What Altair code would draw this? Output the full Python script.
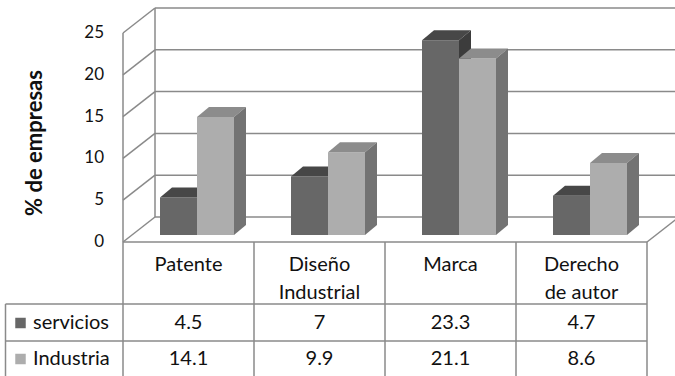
import altair as alt
import pandas as pd

# ---------------- data ----------------
categories = ["Patente", "Diseño Industrial", "Marca", "Derecho de autor"]
header_line1 = ["Patente", "Diseño", "Marca", "Derecho"]
header_line2 = ["", "Industrial", "", "de autor"]
series = ["servicios", "Industria"]
servicios = [4.5, 7, 23.3, 4.7]
industria = [14.1, 9.9, 21.1, 8.6]
y_ticks = [0, 5, 10, 15, 20, 25]
values_by_series = [servicios, industria]

# ---------------- layout constants ----------------
PX_U = 131.0     # px per category column
PX_V = 8.36      # px per percent
X0 = 123.0       # px of front-left axis
YB = 235.0       # px of bar base
W, H = 675, 376
FONT = "Lato"


def u(px):
    return (px - X0) / PX_U


def v(py):
    return (YB - py) / PX_V


X_DOM = [u(0), u(W)]
Y_DOM = [v(H), v(0)]
FRONT0 = v(242)            # front floor level
WDU, WDV = 32 / PX_U, 25 / PX_V   # wall depth
BDU, BDV = 12 / PX_U, 10 / PX_V   # bar depth
BAR_OFF, BAR_W = 37 / PX_U, 37 / PX_U

face_colors = {
    "servicios": ("#676767", "#474747", "#3c3c3c"),
    "Industria": ("#adadad", "#8c8c8c", "#737373"),
}
LINE = "#8a8a8a"
TXT = "#111111"


def X(f="x"):
    return alt.X(f"{f}:Q", scale=alt.Scale(domain=X_DOM, nice=False, zero=False), axis=None)


def Y(f="y"):
    return alt.Y(f"{f}:Q", scale=alt.Scale(domain=Y_DOM, nice=False, zero=False), axis=None, stack=None)


# ---------------- frame segments ----------------
BACK0 = FRONT0 + WDV
segs = []
for k in y_ticks:
    segs.append((WDU, BACK0 + k, 4 + WDU, BACK0 + k))   # back wall grid
    segs.append((0, FRONT0 + k, WDU, BACK0 + k))        # side wall diagonals
segs.append((WDU, BACK0, WDU, BACK0 + 25))
segs.append((0, FRONT0, 0, FRONT0 + 25))
segs.append((4, FRONT0, 4 + WDU, BACK0))
segs.append((0, FRONT0, 4, FRONT0))
for i in range(5):
    segs.append((i, FRONT0, i, v(H)))
segs.append((u(5.5), v(304), u(5.5), v(H)))
segs.append((u(5.5), v(304), 4, v(304)))
segs.append((u(5.5), v(341), 4, v(341)))
seg_df = pd.DataFrame(segs, columns=["x", "y", "x2", "y2"])

frame = alt.Chart(seg_df).mark_rule(color=LINE, strokeWidth=1.5).encode(
    x=X(), y=Y(), x2="x2:Q", y2="y2:Q"
)

layers = [frame]

# ---------------- bars ----------------
for si, s in enumerate(series):
    vals = values_by_series[si]
    fronts, tops, sides = [], [], []
    for ci, val in enumerate(vals):
        x0 = ci + BAR_OFF + si * BAR_W
        x1 = x0 + BAR_W
        fronts.append({"x": x0, "x2": x1, "y": 0, "y2": val})
        pts = [(x0, val, val), (x0 + BDU, val + BDV, val),
               (x1, val + BDV, val), (x1 + BDU, val + BDV, val + BDV)]
        for px, py, py2 in pts:
            tops.append({"id": f"t{ci}", "x": px, "y": py, "y2": py2})
        sides.append({"id": f"s{ci}", "x": x1, "y": val, "y2": 0})
        sides.append({"id": f"s{ci}", "x": x1 + BDU, "y": val + BDV, "y2": BDV})
    cf, ct, cs = face_colors[s]
    layers.append(alt.Chart(pd.DataFrame(fronts)).mark_rect(color=cf).encode(
        x=X(), x2="x2:Q", y=Y(), y2="y2:Q"))
    layers.append(alt.Chart(pd.DataFrame(tops)).mark_area(color=ct, opacity=1).encode(
        x=X(), y=Y(), y2="y2:Q", detail="id:N"))
    layers.append(alt.Chart(pd.DataFrame(sides)).mark_area(color=cs, opacity=1).encode(
        x=X(), y=Y(), y2="y2:Q", detail="id:N"))

# ---------------- axis labels ----------------
tick_df = pd.DataFrame({"x": [u(104)] * len(y_ticks),
                        "y": [FRONT0 + k for k in y_ticks],
                        "t": [str(k) for k in y_ticks]})
layers.append(alt.Chart(tick_df).mark_text(align="right", baseline="middle", font=FONT,
                                           fontSize=17, color=TXT).encode(
    x=X(), y=Y(), text="t:N"))

title_df = pd.DataFrame({"x": [u(35)], "y": [v(143)], "t": ["% de empresas"]})
layers.append(alt.Chart(title_df).mark_text(angle=270, align="center", baseline="middle",
                                            font=FONT, fontSize=22, fontWeight="bold",
                                            color=TXT).encode(x=X(), y=Y(), text="t:N"))

# ---------------- table ----------------
hdr = []
for ci in range(len(categories)):
    hdr.append({"x": ci + 0.5, "y": v(265), "t": header_line1[ci]})
    if header_line2[ci]:
        hdr.append({"x": ci + 0.5, "y": v(293), "t": header_line2[ci]})
row_y = [v(323), v(359)]
for si, s in enumerate(series):
    for ci, val in enumerate(values_by_series[si]):
        hdr.append({"x": ci + 0.5, "y": row_y[si], "t": f"{val:g}"})
layers.append(alt.Chart(pd.DataFrame(hdr)).mark_text(align="center", baseline="middle",
                                                     font=FONT, fontSize=20, color=TXT).encode(
    x=X(), y=Y(), text="t:N"))

leg_df = pd.DataFrame({"x": [u(33)] * 2, "y": row_y, "t": series,
                       "sx": [u(20.5)] * 2})
layers.append(alt.Chart(leg_df).mark_text(align="left", baseline="middle", font=FONT,
                                          fontSize=20, color=TXT).encode(
    x=X(), y=Y(), text="t:N"))
layers.append(alt.Chart(leg_df).mark_square(size=110, opacity=1).encode(
    x=X("sx"), y=Y(),
    color=alt.Color("t:N", scale=alt.Scale(domain=series,
                                           range=[face_colors[s][0] for s in series]),
                    legend=None)))

chart = alt.layer(*layers).properties(
    width=W, height=H, padding=0,
    autosize=alt.AutoSizeParams(type="none"),
).configure_view(stroke=None)

chart.save("out.html", embed_options={"renderer": "svg", "actions": False})
